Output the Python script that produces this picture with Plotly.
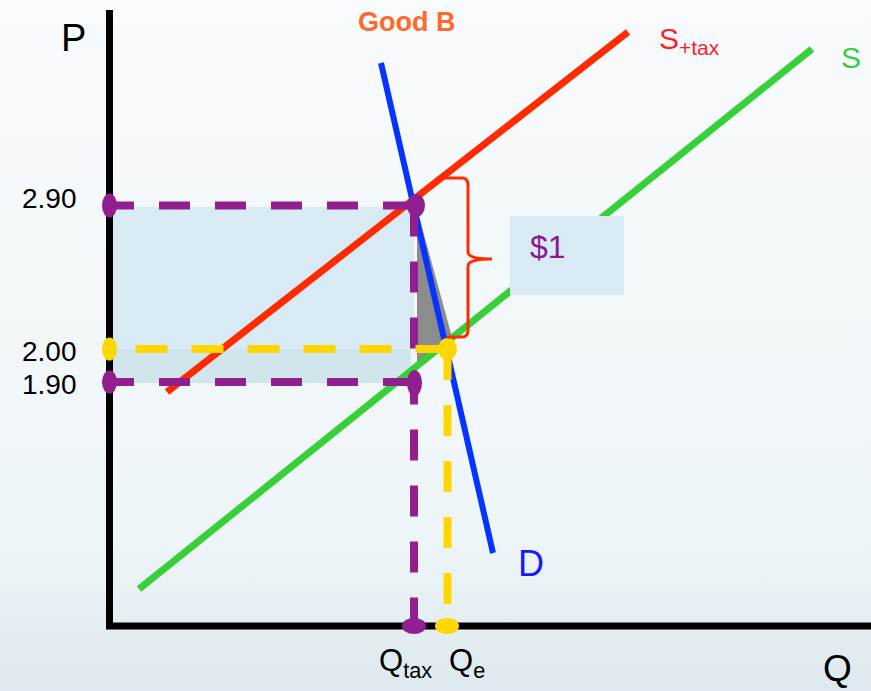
import plotly.graph_objects as go

# ---------------- data (chart units: Q horizontal, P vertical) ----------------
axis_q_end = 76.15
axis_p_top = 61.6

s_tax_q = [5.75, 51.85]
s_tax_p = [23.4, 59.4]
s_q = [2.95, 70.25]
s_p = [3.7, 57.7]
d_q = [27.15, 38.35]
d_p = [56.3, 7.3]

q_tax = 30.45
q_e = 33.8
p_high = 42.05   # 2.90
p_e = 27.7       # 2.00
p_low = 24.4     # 1.90

price_labels = ["2.90", "2.00", "1.90"]
price_label_pos = [42.8, 27.5, 24.2]

dwl_q = [30.75, 34.25, 30.75]
dwl_p = [41.7, 28.9, 26.0]

rev_top_q = [0, 30.45]
rev_top_p = [27.7, 41.9]
rev_low_q = [0, 30.15]
rev_low_p = [24.3, 27.7]

box_q = [40.05, 51.45]
box_p = [33.1, 41.0]

brace_q = 35.85
brace_tip_q = 38.25
brace_top_p = 44.8
brace_bot_p = 28.9
brace_mid_p = 36.7
brace_left_top_q = 33.55
brace_left_bot_q = 33.75

xr = [-10.95, 76.15]
yr = [-6.5, 62.6]

PURPLE = "#911f8f"
YELLOW = "#ffd700"
RED = "#ff2a00"
GREEN = "#38d038"
BLUE = "#0533ff"
LIGHT = "#d8ebf4"
LIGHT2 = "#d1e5ed"
FONT = "Liberation Sans, Arial, sans-serif"

fig = go.Figure()

# background gradient
fig.add_trace(go.Scatter(
    x=[xr[0], xr[1], xr[1], xr[0], xr[0]], y=[yr[0], yr[0], yr[1], yr[1], yr[0]],
    mode="lines", line=dict(width=0), fill="toself",
    fillgradient=dict(type="vertical",
                      colorscale=[[0, "#dde9ee"], [0.22, "#eef5f8"], [1, "#f8fbfd"]]),
    hoverinfo="skip"))

def rect_trace(qs, ps, color):
    fig.add_trace(go.Scatter(x=[qs[0], qs[1], qs[1], qs[0], qs[0]],
                             y=[ps[0], ps[0], ps[1], ps[1], ps[0]],
                             mode="lines", line=dict(width=0), fill="toself",
                             fillcolor=color, hoverinfo="skip"))

# revenue rectangles
rect_trace(rev_top_q, rev_top_p, LIGHT)
rect_trace(rev_low_q, rev_low_p, LIGHT2)

# dead-weight loss triangle
fig.add_trace(go.Scatter(x=dwl_q + [dwl_q[0]], y=dwl_p + [dwl_p[0]], mode="lines",
                         line=dict(width=0), fill="toself", fillcolor="#8c8c8c",
                         hoverinfo="skip"))

# axes
fig.add_trace(go.Scatter(x=[0, 0, axis_q_end], y=[axis_p_top, 0, 0], mode="lines",
                         line=dict(color="black", width=7), hoverinfo="skip"))

# curves
fig.add_trace(go.Scatter(x=s_q, y=s_p, mode="lines", line=dict(color=GREEN, width=7)))
fig.add_trace(go.Scatter(x=s_tax_q, y=s_tax_p, mode="lines", line=dict(color=RED, width=7)))
fig.add_trace(go.Scatter(x=d_q, y=d_p, mode="lines", line=dict(color=BLUE, width=6)))

# dashed guide lines
dash = "31px,25px"
fig.add_trace(go.Scatter(x=[q_tax, 0], y=[p_high, p_high], mode="lines",
                         line=dict(color=PURPLE, width=8, dash=dash)))
fig.add_trace(go.Scatter(x=[q_tax, 0], y=[p_low, p_low], mode="lines",
                         line=dict(color=PURPLE, width=8, dash=dash)))
fig.add_trace(go.Scatter(x=[q_tax, q_tax], y=[p_high, 0], mode="lines",
                         line=dict(color=PURPLE, width=8, dash=dash)))
fig.add_trace(go.Scatter(x=[q_e, 0], y=[p_e, p_e], mode="lines",
                         line=dict(color=YELLOW, width=8, dash="32px,24px")))
fig.add_trace(go.Scatter(x=[q_e, q_e], y=[p_e, 0], mode="lines",
                         line=dict(color=YELLOW, width=8, dash=dash)))

shapes = []

# ellipse dots
def dot(cx, cy, w, h, color):
    shapes.append(dict(type="circle", xref="x", yref="y", x0=cx - w / 2, x1=cx + w / 2,
                       y0=cy - h / 2, y1=cy + h / 2, fillcolor=color, line_width=0, layer="above"))

dot(0, p_high, 1.5, 2.4, PURPLE)
dot(0, p_low, 1.5, 2.3, PURPLE)
dot(0, p_e, 1.5, 2.3, YELLOW)
dot(q_tax + 0.2, p_high, 1.8, 2.3, PURPLE)
dot(q_tax + 0.05, p_low - 0.1, 1.5, 2.6, PURPLE)
dot(q_e, p_e, 1.9, 2.2, YELLOW)
dot(q_tax, 0, 2.4, 1.6, PURPLE)
dot(q_e - 0.05, 0, 2.4, 1.6, YELLOW)

# "$1" box
shapes.append(dict(type="rect", xref="x", yref="y", x0=box_q[0], x1=box_q[1],
                   y0=box_p[0], y1=box_p[1], fillcolor=LIGHT, line_width=0, layer="above"))

# brace
bq, tq = brace_q, brace_tip_q
path = (f"M {brace_left_top_q},{brace_top_p} L {bq - 0.6},{brace_top_p} "
        f"Q {bq},{brace_top_p} {bq},{brace_top_p - 0.7} "
        f"L {bq},{brace_mid_p + 0.7} Q {bq},{brace_mid_p} {tq},{brace_mid_p} "
        f"Q {bq},{brace_mid_p} {bq},{brace_mid_p - 0.7} "
        f"L {bq},{brace_bot_p + 0.7} Q {bq},{brace_bot_p} {bq - 0.6},{brace_bot_p} "
        f"L {brace_left_bot_q},{brace_bot_p}")
shapes.append(dict(type="path", xref="x", yref="y", path=path,
                   line=dict(color=RED, width=3), layer="above"))

ann = []
def text(x, y, s, size, color, xanchor="center", bold=False):
    ann.append(dict(x=x, y=y, xref="x", yref="y", text=s, showarrow=False,
                    xanchor=xanchor, yanchor="middle",
                    font=dict(family=FONT, size=size, color=color,
                              weight="bold" if bold else "normal")))

for lab, pos in zip(price_labels, price_label_pos):
    text(-3.1, pos, lab, 28, "black", xanchor="right")

text(-3.65, 58.8, "P", 38, "black")
text(72.75, -4.2, "Q", 37, "black")
text(29.65, 60.4, "Good B", 27, "#ff6a2c", bold=True)
text(54.75, 58.6, "S<sub>+tax</sub>", 30, "#ff1f1f", xanchor="left")
text(74.15, 56.9, "S", 30, GREEN)
text(42.15, 6.3, "D", 36, "#1a1aff")
text(26.75, -3.7, "Q<sub>tax</sub>", 31, "black", xanchor="left")
text(33.75, -3.7, "Q<sub>e</sub>", 31, "black", xanchor="left")
text(43.85, 37.9, "$1", 32, "#8b1a8b")

fig.update_layout(
    width=871, height=691, autosize=False,
    margin=dict(l=0, r=0, t=0, b=0),
    paper_bgcolor="#f5f9fb", plot_bgcolor="rgba(0,0,0,0)",
    showlegend=False,
    xaxis=dict(range=xr, visible=False, fixedrange=True),
    yaxis=dict(range=yr, visible=False, fixedrange=True),
    shapes=shapes, annotations=ann,
)

fig.write_html("out.html", config={"displayModeBar": False},
               post_script="document.body.style.margin='0';")
